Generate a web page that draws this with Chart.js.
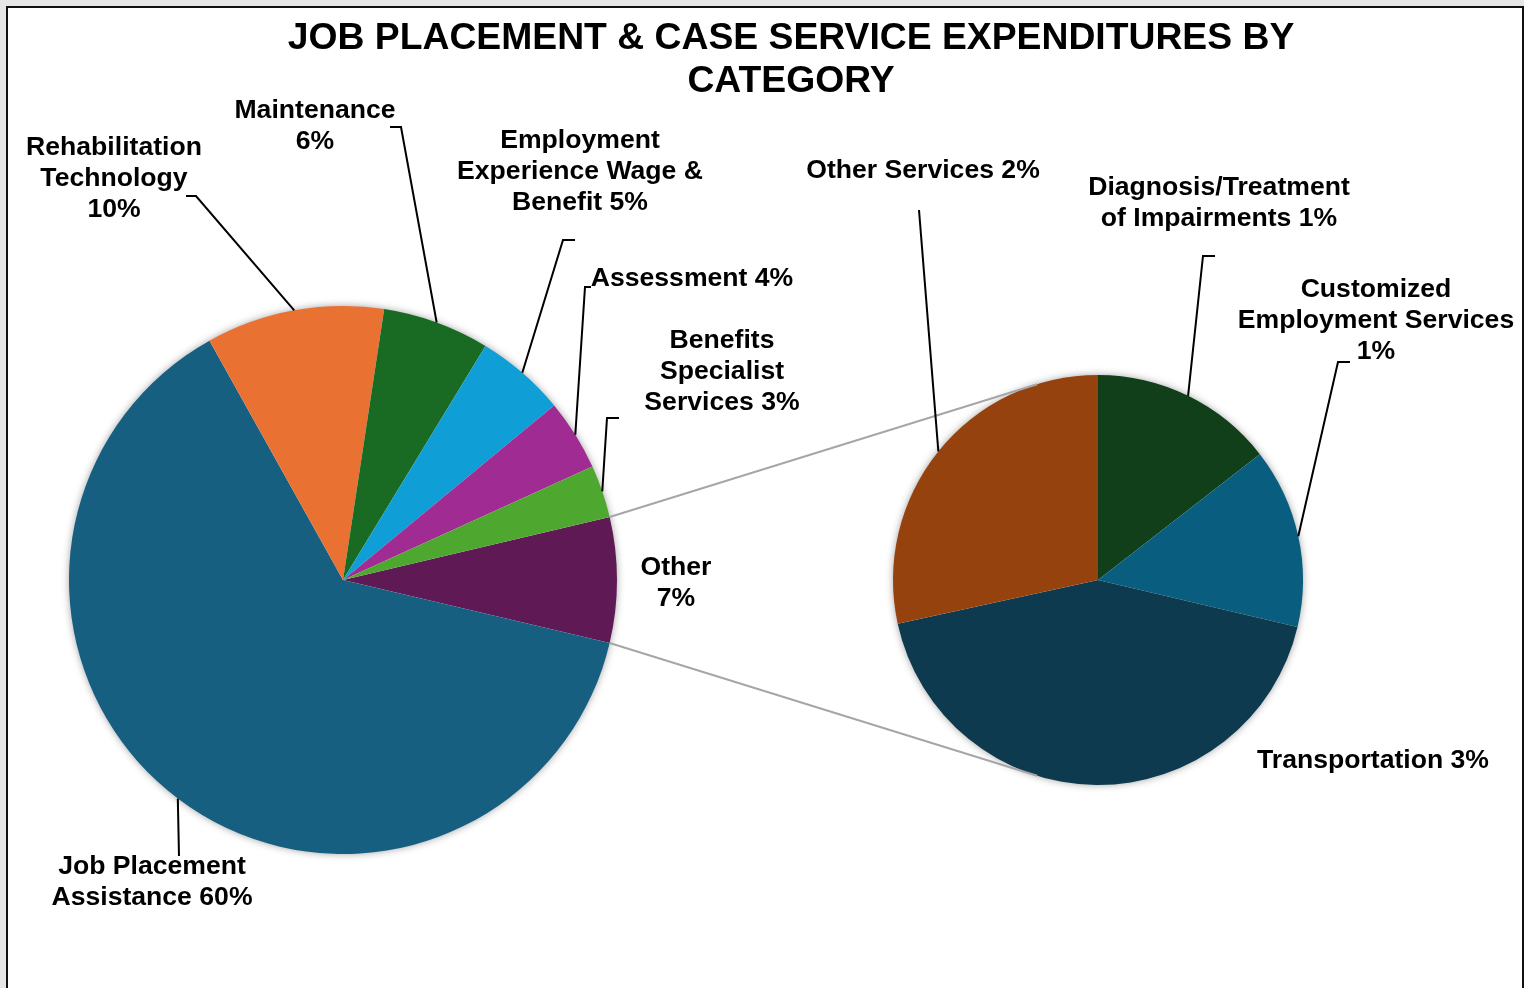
<!DOCTYPE html>
<html>
<head>
<meta charset="utf-8">
<script src="https://cdn.jsdelivr.net/npm/chart.js@4.4.1/dist/chart.umd.min.js"></script>
<style>
  html, body { margin: 0; padding: 0; background: #e6e6e6; overflow: hidden; }
  .frame { position: absolute; left: 6px; top: 6px; width: 1514px; height: 1000px; background: #fff; border: 2px solid #111; }
  canvas { position: absolute; left: 0; top: 0; }
</style>
</head>
<body>
<div class="frame"></div>
<canvas id="mainPie" width="1524" height="988"></canvas>
<canvas id="subPie" width="1524" height="988"></canvas>
<script>
// Primary pie (share of total)
const mainCategories = ['Job Placement Assistance', 'Rehabilitation Technology', 'Maintenance',
  'Employment Experience Wage & Benefit', 'Assessment', 'Benefits Specialist Services'];
const mainValues = [63.2, 10.5, 6.3, 5.3, 4.2, 3.1];
const mainColors = ['#175f81', '#e97132', '#196b24', '#0f9ed5', '#a02b93', '#4ea72e'];

// "Other" slice, split out in the secondary pie
const otherCategory = 'Other';
const otherColor = '#5f1a56';
const subCategories = ['Diagnosis/Treatment of Impairments', 'Customized Employment Services',
  'Transportation', 'Other Services'];
const subValues = [1.07, 1.05, 3.17, 2.10];
const subColors = ['#113f19', '#095e80', '#0e3a4f', '#96420f'];

// label text as printed on the chart
const mainLabelText = [
  ['Job Placement', 'Assistance 60%'],
  ['Rehabilitation', 'Technology', '10%'],
  ['Maintenance', '6%'],
  ['Employment', 'Experience Wage &', 'Benefit 5%'],
  ['Assessment 4%'],
  ['Benefits', 'Specialist', 'Services 3%']
];
const otherLabelText = ['Other', '7%'];
const subLabelText = [
  ['Diagnosis/Treatment', 'of Impairments 1%'],
  ['Customized', 'Employment Services', '1%'],
  ['Transportation 3%'],
  ['Other Services 2%']
];
const titleLines = ['JOB PLACEMENT & CASE SERVICE EXPENDITURES BY', 'CATEGORY'];

// where the labels sit (text centre x, first line y) and where their leader bends
const mainLabelSpots = [
  { x: 152, y: 867, elbow: [[179, 856]] },
  { x: 114, y: 148, elbow: [[186, 196], [196, 196]] },
  { x: 315, y: 111, elbow: [[390, 127], [401, 127]] },
  { x: 580, y: 141, elbow: [[575, 240], [563, 240]] },
  { x: 692, y: 279, elbow: [[591, 287], [585, 287]] },
  { x: 722, y: 341, elbow: [[619, 418], [607, 418]] }
];
const otherLabelSpot = { x: 676, y: 568 };
const subLabelSpots = [
  { x: 1219, y: 188, elbow: [[1215, 256], [1203, 256]] },
  { x: 1376, y: 290, elbow: [[1350, 362], [1338, 362]] },
  { x: 1373, y: 761 },
  { x: 923, y: 171, elbow: [[919, 210]] }
];

const LABEL_FONT = 'bold 26.6px "Liberation Sans", Arial, sans-serif';
const LINE_H = 31;

const otherValue = subValues.reduce((a, b) => a + b, 0);
const totalValue = otherValue + mainValues.reduce((a, b) => a + b, 0);
const otherDeg = otherValue / totalValue * 360;

// soft shadow round each pie
const shadowPlugin = {
  id: 'pieShadow',
  beforeDatasetsDraw(chart) {
    const arc = chart.getDatasetMeta(0).data[0];
    const ctx = chart.ctx;
    ctx.save();
    ctx.shadowColor = 'rgba(0,0,0,0.45)';
    ctx.shadowBlur = 9;
    ctx.fillStyle = '#fff';
    ctx.beginPath();
    ctx.arc(arc.x, arc.y, arc.outerRadius - 1, 0, Math.PI * 2);
    ctx.fill();
    ctx.restore();
  }
};

function edgeMid(el) {
  const a = (el.startAngle + el.endAngle) / 2;
  return [el.x + Math.cos(a) * el.outerRadius, el.y + Math.sin(a) * el.outerRadius];
}

function drawLeader(ctx, el, spot) {
  if (!spot.elbow) return;
  const end = edgeMid(el);
  ctx.beginPath();
  ctx.moveTo(spot.elbow[0][0], spot.elbow[0][1]);
  spot.elbow.slice(1).forEach(p => ctx.lineTo(p[0], p[1]));
  ctx.lineTo(end[0], end[1]);
  ctx.stroke();
}

function drawLabel(ctx, lines, spot) {
  lines.forEach((t, i) => ctx.fillText(t, spot.x, spot.y + i * LINE_H));
}

// tangent point on a circle seen from an outside point
function tangentPoint(px, py, cx, cy, r, upper) {
  const d = Math.hypot(px - cx, py - cy);
  const base = Math.atan2(py - cy, px - cx);
  const alpha = Math.acos(r / d);
  const a = upper ? base + alpha : base - alpha;
  return [cx + Math.cos(a) * r, cy + Math.sin(a) * r];
}

const mainChart = new Chart(document.getElementById('mainPie'), {
  type: 'pie',
  data: {
    labels: [otherCategory, ...mainCategories],
    datasets: [{
      data: [otherValue, ...mainValues],
      backgroundColor: [otherColor, ...mainColors],
      borderWidth: 0,
      hoverOffset: 0
    }]
  },
  options: {
    responsive: false,
    animation: false,
    rotation: 90 - otherDeg / 2,
    layout: { padding: { left: 69, right: 907, top: 306, bottom: 134 } },
    plugins: { legend: { display: false }, tooltip: { enabled: false } }
  },
  plugins: [shadowPlugin]
});

const annotations = {
  id: 'annotations',
  afterDraw(chart) {
    const ctx = chart.ctx;
    const mainArcs = mainChart.getDatasetMeta(0).data;
    const subArcs = chart.getDatasetMeta(0).data;

    // connectors from the Other slice to the secondary pie
    const other = mainArcs[0];
    const c = subArcs[0];
    const top = [other.x + Math.cos(other.startAngle) * other.outerRadius, other.y + Math.sin(other.startAngle) * other.outerRadius];
    const bot = [other.x + Math.cos(other.endAngle) * other.outerRadius, other.y + Math.sin(other.endAngle) * other.outerRadius];
    const tTop = tangentPoint(top[0], top[1], c.x, c.y, c.outerRadius, true);
    const tBot = tangentPoint(bot[0], bot[1], c.x, c.y, c.outerRadius, false);
    ctx.save();
    ctx.strokeStyle = '#a6a6a6';
    ctx.lineWidth = 2;
    ctx.beginPath();
    ctx.moveTo(top[0], top[1]); ctx.lineTo(tTop[0], tTop[1]);
    ctx.moveTo(bot[0], bot[1]); ctx.lineTo(tBot[0], tBot[1]);
    ctx.stroke();

    // leader lines
    ctx.strokeStyle = '#000';
    ctx.lineWidth = 2;
    mainLabelSpots.forEach((spot, i) => drawLeader(ctx, mainArcs[i + 1], spot));
    subLabelSpots.forEach((spot, i) => drawLeader(ctx, subArcs[i], spot));

    // labels
    ctx.fillStyle = '#000';
    ctx.textAlign = 'center';
    ctx.textBaseline = 'middle';
    ctx.font = LABEL_FONT;
    mainLabelText.forEach((lines, i) => drawLabel(ctx, lines, mainLabelSpots[i]));
    drawLabel(ctx, otherLabelText, otherLabelSpot);
    subLabelText.forEach((lines, i) => drawLabel(ctx, lines, subLabelSpots[i]));

    // title
    ctx.font = 'bold 37.3px "Liberation Sans", Arial, sans-serif';
    ctx.fillText(titleLines[0], 791, 39);
    ctx.fillText(titleLines[1], 791, 82);
    ctx.restore();
  }
};

new Chart(document.getElementById('subPie'), {
  type: 'pie',
  data: {
    labels: subCategories,
    datasets: [{
      data: subValues,
      backgroundColor: subColors,
      borderWidth: 0,
      hoverOffset: 0
    }]
  },
  options: {
    responsive: false,
    animation: false,
    rotation: 0,
    layout: { padding: { left: 893, right: 221, top: 375, bottom: 203 } },
    plugins: { legend: { display: false }, tooltip: { enabled: false } }
  },
  plugins: [shadowPlugin, annotations]
});
</script>
</body>
</html>
